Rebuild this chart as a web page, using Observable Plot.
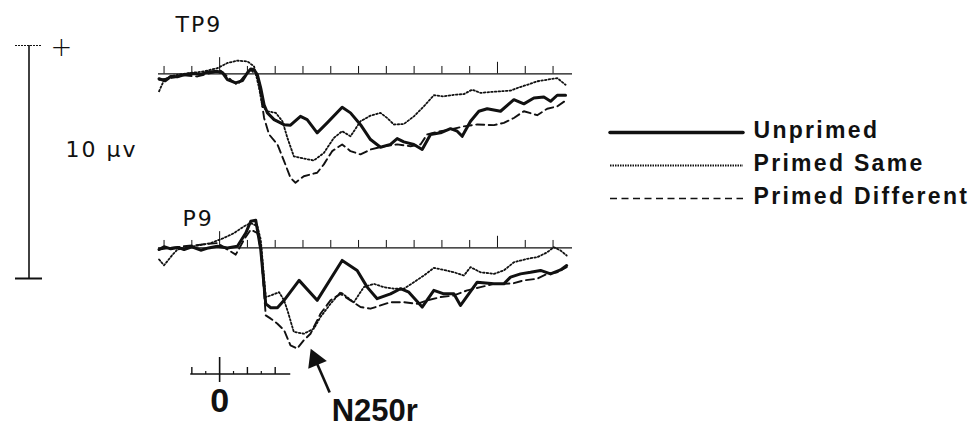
<!DOCTYPE html>
<html><head><meta charset="utf-8">
<script src="https://cdn.jsdelivr.net/npm/d3@7"></script>
<script src="https://cdn.jsdelivr.net/npm/@observablehq/plot@0.6"></script>
<style>
html,body{margin:0;padding:0;background:#fff;}
#fig{position:relative;width:975px;height:428px;overflow:hidden;background:#fff;}
#fig > svg{position:absolute;}
</style></head><body><div id="fig"></div>
<script>
// ---- data (time in ms, amplitude in µV; positive up) ----
const panels = ["TP9", "P9"];
const conditions = ["Unprimed", "Primed Same", "Primed Different"];

const tp9Unprimed = [[-218,-0.21],[-196,-0.30],[-176,-0.11],[-150,-0.12],[-128,-0.04],[-100,0.02],[-68,-0.01],[-40,0.08],[-8,0.11],[10,0.05],[28,-0.25],[58,-0.39],[82,-0.29],[100,0.05],[112,0.21],[124,0.18],[136,-0.04],[148,-0.61],[160,-1.33],[172,-1.68],[196,-1.97],[232,-2.19],[255,-2.21],[291,-1.83],[315,-1.97],[351,-2.54],[387,-2.11],[441,-1.44],[471,-1.68],[507,-2.19],[543,-2.83],[579,-3.16],[615,-3.04],[639,-2.79],[663,-2.93],[699,-3.04],[729,-3.26],[759,-2.61],[795,-2.54],[831,-2.36],[855,-2.47],[873,-2.69],[903,-2.04],[933,-1.61],[963,-1.50],[1011,-1.61],[1059,-1.11],[1095,-1.29],[1131,-1.04],[1167,-1.00],[1191,-1.18],[1215,-0.92],[1245,-0.92]];
const tp9Same = [[-218,-0.75],[-205,-0.40],[-200,-0.25],[-176,-0.10],[-152,-0.04],[-104,0.04],[-56,0.11],[-8,0.25],[28,0.47],[64,0.57],[100,0.54],[124,0.32],[142,-0.61],[154,-1.40],[172,-1.61],[202,-1.68],[226,-2.04],[244,-2.76],[267,-3.55],[303,-3.65],[339,-3.73],[375,-3.41],[411,-2.76],[441,-2.47],[471,-2.69],[507,-2.04],[543,-1.80],[579,-1.68],[603,-1.90],[627,-2.18],[663,-2.16],[699,-1.83],[735,-1.40],[771,-0.92],[807,-0.97],[843,-0.90],[879,-0.87],[909,-0.68],[939,-0.82],[975,-0.78],[1011,-0.75],[1047,-0.72],[1071,-0.61],[1107,-0.47],[1143,-0.32],[1179,-0.25],[1215,-0.18],[1245,-0.47]];
const tp9Different = [[-218,-0.25],[-176,-0.18],[-128,-0.06],[-80,-0.11],[-32,0.04],[4,0.14],[40,-0.25],[64,-0.47],[88,-0.11],[112,0.18],[136,-0.11],[148,-0.90],[160,-1.90],[178,-2.61],[208,-3.04],[232,-3.76],[255,-4.48],[273,-4.69],[303,-4.41],[351,-4.26],[375,-3.90],[405,-3.33],[441,-3.04],[471,-3.33],[507,-3.47],[543,-3.26],[591,-3.12],[639,-3.04],[687,-3.12],[723,-3.04],[747,-2.61],[795,-2.47],[831,-2.40],[879,-2.26],[927,-2.18],[987,-2.21],[1023,-2.11],[1059,-1.90],[1095,-1.61],[1143,-1.78],[1179,-1.50],[1215,-1.40],[1245,-1.15]];

const p9Unprimed = [[-218,-0.07],[-200,0.05],[-176,-0.04],[-150,0.02],[-128,-0.07],[-100,0.05],[-68,-0.10],[-40,0.00],[-8,0.07],[28,0.00],[64,0.07],[94,0.64],[112,1.15],[130,1.19],[148,-0.07],[166,-2.41],[184,-2.58],[208,-2.58],[232,-2.26],[286,-1.40],[351,-2.26],[441,-0.54],[495,-0.97],[531,-1.69],[567,-2.19],[615,-1.98],[651,-1.76],[681,-1.91],[729,-2.55],[771,-1.83],[807,-1.98],[843,-1.98],[867,-2.48],[927,-1.48],[987,-1.55],[1023,-1.55],[1047,-1.26],[1083,-1.12],[1119,-1.05],[1155,-0.97],[1191,-1.12],[1227,-0.95],[1249,-0.76]];
const p9Same = [[-218,-0.50],[-200,-0.75],[-188,-0.57],[-170,-0.30],[-152,-0.07],[-92,0.07],[-32,0.21],[16,0.43],[52,0.64],[88,0.93],[112,1.07],[136,0.93],[148,0.36],[166,-2.12],[184,-2.05],[214,-1.91],[232,-2.26],[244,-2.69],[267,-3.62],[303,-3.70],[339,-3.48],[363,-2.98],[399,-2.41],[435,-1.91],[483,-2.34],[519,-1.69],[555,-1.55],[591,-1.69],[627,-1.76],[663,-1.76],[699,-1.48],[735,-1.19],[771,-0.86],[807,-0.95],[843,-1.05],[879,-1.19],[903,-0.83],[939,-1.05],[987,-1.12],[1023,-0.97],[1059,-0.62],[1107,-0.47],[1143,-0.40],[1179,-0.19],[1203,0.03],[1227,-0.11],[1249,-0.33]];
const p9Different = [[-218,-0.07],[-176,0.00],[-128,0.07],[-68,0.14],[-8,0.21],[28,-0.07],[58,-0.29],[88,0.36],[112,0.79],[136,0.64],[148,-0.07],[166,-2.91],[184,-3.05],[208,-3.27],[232,-3.55],[255,-4.20],[279,-4.34],[303,-3.98],[327,-3.70],[363,-2.84],[399,-2.26],[435,-1.98],[471,-2.26],[507,-2.55],[543,-2.62],[579,-2.48],[615,-2.34],[663,-2.34],[711,-2.41],[747,-2.26],[795,-2.12],[843,-2.05],[891,-1.83],[939,-1.69],[987,-1.55],[1023,-1.55],[1059,-1.52],[1095,-1.40],[1143,-1.33],[1179,-1.12],[1215,-1.05],[1249,-0.83]];

const baselineTicks = [-200,-100,0,100,200,300,400,500,600,700,800,900,1000,1100,1200];
const timeBarExtent = [-104, 256];
const timeBarMajor = [-100, 100, 200];
const timeBarMinor = [-50, 50, 150];
const timeBarZero = [0];
const voltageBar = [0, 10];          // µV
const voltageLabel = "10 µv";
const annotation = [{label: "N250r", panel: "P9", t1: 396, v1: -6.23, t2: 327, v2: -4.34}];

// ---- tidy table ----
const rows = [];
const add = (panel, cond, arr) => arr.forEach(([t, v]) => rows.push({panel, cond, t, v}));
add("TP9", "Unprimed", tp9Unprimed); add("TP9", "Primed Same", tp9Same); add("TP9", "Primed Different", tp9Different);
add("P9", "Unprimed", p9Unprimed); add("P9", "Primed Same", p9Same); add("P9", "Primed Different", p9Different);

const INK = "#111";
const styleSolid = {stroke: INK, strokeWidth: 3, strokeLinejoin: "round", strokeLinecap: "round"};
const styleDotted = {stroke: INK, strokeWidth: 1.8, strokeDasharray: "1.6,2.1"};
const styleDashed = {stroke: INK, strokeWidth: 1.9, strokeDasharray: "8,4.5"};
const TX = {domain: [-220, 1270], range: [158, 572], axis: null};
const transparent = {background: "transparent", overflow: "visible"};
const head = annotation.map(d => ({...d, hx: d.t2 + (d.t1 - d.t2) * 0.25, hy: d.v2 + (d.v1 - d.v2) * 0.25}));

const fig = document.getElementById("fig");

// ---- panels ----
const panelPlot = Plot.plot({
  width: 975, height: 428,
  marginLeft: 158, marginRight: 403, marginTop: 26, marginBottom: 53,
  x: TX,
  y: {domain: [-5.5, 2], axis: null},
  fy: {domain: panels, axis: null, padding: 0},
  style: transparent,
  marks: [
    Plot.ruleY([0], {stroke: INK, strokeWidth: 1.1}),
    Plot.ruleX(baselineTicks, {x: d => d, y1: 0, y2: d => d === 0 ? 0.7 : d === 1000 ? 0.5 : 0.32, stroke: INK, strokeWidth: 1}),
    Plot.line(rows, {filter: d => d.cond === "Primed Same", x: "t", y: "v", fy: "panel", ...styleDotted}),
    Plot.line(rows, {filter: d => d.cond === "Primed Different", x: "t", y: "v", fy: "panel", ...styleDashed}),
    Plot.line(rows, {filter: d => d.cond === "Unprimed", x: "t", y: "v", fy: "panel", ...styleSolid}),
    Plot.text(["TP9"], {fy: d => d, text: d => d, frameAnchor: "top-left", textAnchor: "start", lineAnchor: "bottom", dx: 17, dy: 4, fontSize: 22, fontFamily: "DejaVu Sans", fill: INK}),
    Plot.text(["P9"], {fy: d => d, text: d => d, frameAnchor: "top-left", textAnchor: "start", lineAnchor: "bottom", dx: 24, dy: 24, fontSize: 22, fontFamily: "DejaVu Sans", fill: INK}),
    Plot.link(head, {x1: "t1", y1: "v1", x2: "hx", y2: "hy", fy: "panel", stroke: INK, strokeWidth: 2.6}),
    Plot.dot(head, {x: "hx", y: "hy", fy: "panel", symbol: "triangle", r: 7.5, fill: INK, stroke: "none", rotate: -23}),
    Plot.text(head, {x: "t1", y: "v1", fy: "panel", text: "label", textAnchor: "start", lineAnchor: "top", dx: 2, dy: 7, fontSize: 31, fontWeight: "bold", fontFamily: "Liberation Sans, Arial, sans-serif", fill: INK})
  ]
});
d3.select(panelPlot).selectAll("text").filter(function() { return this.textContent === "TP9" || this.textContent === "P9"; }).style("letter-spacing", "2px");
panelPlot.style.left = "0px"; panelPlot.style.top = "0px";
fig.appendChild(panelPlot);

// ---- time scale bar ----
const timePlot = Plot.plot({
  width: 975, height: 88,
  marginLeft: 158, marginRight: 403, marginTop: 33, marginBottom: 54,
  x: TX, y: {axis: null},
  style: transparent,
  marks: [
    Plot.ruleY([0], {x1: timeBarExtent[0], x2: timeBarExtent[1], stroke: INK, strokeWidth: 1.6}),
    Plot.axisX(timeBarMinor, {anchor: "top", tickSize: 3, tickFormat: () => "", label: null, stroke: INK, strokeWidth: 1.2}),
    Plot.axisX(timeBarMajor, {anchor: "top", tickSize: 7, tickFormat: () => "", label: null, stroke: INK, strokeWidth: 1.4}),
    Plot.axisX(timeBarZero, {anchor: "top", tickSize: 17, tickFormat: () => "", label: null, stroke: INK, strokeWidth: 1.6}),
    Plot.axisX(timeBarZero, {anchor: "bottom", tickSize: 8, tickPadding: 5, tickFormat: d => String(d), label: null, stroke: INK, strokeWidth: 1.6, fill: INK, fontSize: 34, fontWeight: "bold", fontFamily: "Liberation Sans, Arial, sans-serif"})
  ]
});
timePlot.style.left = "0px"; timePlot.style.top = "340px";
fig.appendChild(timePlot);

// ---- voltage scale bar ----
const voltPlot = Plot.plot({
  width: 160, height: 428,
  marginLeft: 15, marginRight: 118, marginTop: 45, marginBottom: 150,
  x: {domain: [0, 1], axis: null},
  y: {domain: voltageBar, axis: null},
  style: transparent,
  marks: [
    Plot.ruleX([0.5], {y1: voltageBar[0], y2: voltageBar[1], stroke: INK, strokeWidth: 1.6}),
    Plot.tickY([voltageBar[1]], {y: d => d, stroke: INK, strokeWidth: 1.2, strokeDasharray: "2,1"}),
    Plot.tickY([voltageBar[0]], {y: d => d, stroke: INK, strokeWidth: 2}),
    Plot.text(["+"], {x: 1, y: voltageBar[1], text: d => d, dx: 20, dy: 2, fontSize: 26, fontWeight: 300, fontFamily: "DejaVu Sans", fill: INK}),
    Plot.text([voltageLabel], {x: 1, y: (voltageBar[0] + voltageBar[1]) / 2 + 0.5, text: d => d, textAnchor: "start", dx: 23, fontSize: 22, fontFamily: "DejaVu Sans", fill: INK})
  ]
});
d3.select(voltPlot).selectAll("text").style("letter-spacing", "2px");
voltPlot.style.left = "0px"; voltPlot.style.top = "0px";
fig.appendChild(voltPlot);

// ---- legend ----
const legendPlot = Plot.plot({
  width: 375, height: 130,
  marginLeft: 0, marginRight: 0, marginTop: 0, marginBottom: 0,
  x: {domain: [0, 1], range: [10, 143], axis: null},
  y: {type: "point", domain: conditions, range: [31, 98], padding: 0, axis: null},
  style: {...transparent, letterSpacing: "2.3px"},
  marks: [
    Plot.ruleY([conditions[0]], {x1: 0, x2: 1, ...styleSolid, strokeWidth: 3.5}),
    Plot.ruleY([conditions[1]], {x1: 0, x2: 1, stroke: INK, strokeWidth: 2.2, strokeDasharray: "1.5,1"}),
    Plot.ruleY([conditions[2]], {x1: 0, x2: 1, stroke: INK, strokeWidth: 1.6, strokeDasharray: "7,4.5"}),
    Plot.text(conditions, {x: 1, y: d => d, text: d => d, dx: 10, dy: -2, textAnchor: "start", fontSize: 23, fontWeight: "bold", fontFamily: "Liberation Sans, Arial, sans-serif", fill: INK})
  ]
});
legendPlot.style.left = "600px"; legendPlot.style.top = "100px";
fig.appendChild(legendPlot);
</script>
</body></html>
